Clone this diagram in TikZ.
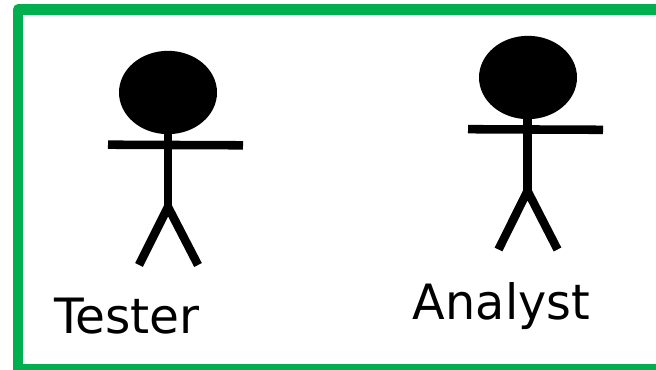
\documentclass[tikz,border=0pt]{standalone}
\usepackage{fontspec}
\setmainfont{DejaVu Sans}
\usetikzlibrary{shapes.geometric}
\tikzset{limb/.style={line width=6.4pt,line cap=butt},head/.style={fill=black,draw=none,ellipse,inner sep=0pt,minimum width=73.5pt,minimum height=62.5pt},lab/.style={font=\fontsize{36.5pt}{40pt}\selectfont,anchor=base,inner sep=0pt}}
\begin{document}
\begin{tikzpicture}[x=0.75pt,y=-0.75pt]
\useasboundingbox (0,0) rectangle (656,370);
\draw[draw={rgb,255:red,0;green,176;blue,80},line width=8pt,line join=round] (18,9.8) rectangle (670,369.5);
\node[head] (h1) at (168,92.5) {};
\node[head] (h2) at (528,77.5) {};
\coordinate (n1) at (168,130);
\coordinate (w1) at (168,205);
\draw[limb] (n1) -- (w1);
\draw[limb] (108,144.7) -- (243,145.3);
\draw[limb] (139,265) -- (168,207) -- (198,265);
\coordinate (n2) at (527.5,115);
\coordinate (w2) at (527.5,190);
\draw[limb] (n2) -- (w2);
\draw[limb] (468,129.2) -- (603,129.8);
\draw[limb] (498.5,249.5) -- (527.5,191) -- (557.5,249.5);
\node[lab] (t1) at (127,333.5) {\scalebox{1.0}[1]{Tester}};
\node[lab] (t2) at (501.5,319.3) {\scalebox{0.98}[1]{Analyst}};
\end{tikzpicture}
\end{document}
